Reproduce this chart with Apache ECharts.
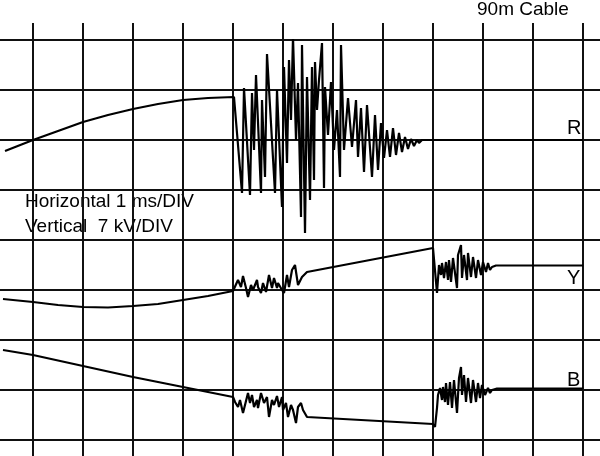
<!DOCTYPE html>
<html>
<head>
<meta charset="utf-8">
<script src="https://cdn.jsdelivr.net/npm/echarts@6/dist/echarts.min.js"></script>
<style>html,body{margin:0;padding:0;background:#fff}#c{width:600px;height:456px}</style>
</head>
<body>
<div id="c"></div>
<script>
// time in ms (1 ms/DIV), voltage in divisions (7 kV/DIV) measured from the bottom grid line
const traceR = [
  [-0.56,5.78],[0,6.00],[0.5,6.18],[1.0,6.36],[1.5,6.50],[2.0,6.62],[2.5,6.72],[3.0,6.80],[3.5,6.84],[4.02,6.86],
  [4.18,4.94],[4.22,7.04],[4.34,4.90],[4.38,6.94],[4.42,5.80],[4.46,7.30],[4.56,4.94],[4.58,6.80],[4.64,5.26],[4.68,7.72],
  [4.84,4.94],[4.88,7.00],[4.98,4.66],[5.02,7.46],[5.08,5.54],[5.12,7.60],[5.16,6.40],[5.20,8.06],[5.26,6.00],[5.30,7.14],
  [5.36,4.46],[5.38,7.90],[5.44,4.14],[5.48,7.26],[5.54,4.80],[5.58,7.46],[5.62,5.20],[5.64,7.56],[5.68,6.60],[5.72,7.20],
  [5.78,7.94],[5.82,5.04],[5.84,7.06],[5.90,6.10],[5.96,7.16],[6.02,5.80],[6.08,6.60],[6.14,5.26],[6.16,7.90],[6.22,5.80],
  [6.30,6.84],[6.38,5.86],[6.46,6.80],[6.50,5.66],[6.56,6.64],[6.62,5.36],[6.68,6.70],[6.78,5.26],[6.84,6.50],[6.90,5.40],
  [6.96,6.34],[7.02,5.64],[7.08,6.20],[7.14,5.66],[7.20,6.24],[7.26,5.70],[7.32,6.14],[7.38,5.76],[7.44,6.06],[7.50,5.82],
  [7.56,6.02],[7.62,5.88],[7.68,6.00],[7.72,5.94],[7.78,6.00],[11.0,6.00]
];
const traceY = [
  [-0.60,2.82],[0,2.76],[0.5,2.70],[1.0,2.66],[1.5,2.65],[2.0,2.68],[2.5,2.72],[3.0,2.80],[3.5,2.88],[4.0,2.98],
  [4.10,3.20],[4.16,3.06],[4.20,3.28],[4.26,3.04],[4.30,2.86],[4.36,3.10],[4.40,3.00],[4.48,3.20],[4.50,3.06],[4.56,2.94],
  [4.60,3.14],[4.66,2.96],[4.72,3.30],[4.78,3.04],[4.82,3.24],[4.88,3.04],[4.90,3.14],[4.98,3.00],[5.02,2.94],[5.08,3.30],
  [5.12,3.06],[5.18,3.40],[5.24,3.50],[5.30,3.10],[5.34,3.06],[5.38,3.26],[5.48,3.36],[8.00,3.84],
  [8.04,3.80],[8.08,2.94],[8.12,3.50],[8.16,3.30],[8.18,3.54],[8.22,3.24],[8.26,3.56],[8.30,3.20],[8.32,3.60],[8.36,3.16],
  [8.40,3.64],[8.48,3.04],[8.50,3.70],[8.56,3.90],[8.58,3.24],[8.62,3.70],[8.68,3.20],[8.70,3.74],[8.76,3.26],[8.80,3.66],
  [8.86,3.24],[8.90,3.60],[8.96,3.30],[9.00,3.56],[9.06,3.36],[9.10,3.54],[9.14,3.40],[9.18,3.46],[9.20,3.44],[9.26,3.49],
  [11.0,3.49]
];
const traceB = [
  [-0.60,1.80],[0,1.70],[1.0,1.48],[2.0,1.26],[3.0,1.06],[4.0,0.86],
  [4.04,0.76],[4.10,0.66],[4.14,0.80],[4.20,0.54],[4.30,0.94],[4.34,0.74],[4.38,0.90],[4.42,0.66],[4.48,0.80],[4.50,0.64],
  [4.56,0.94],[4.62,0.74],[4.68,0.86],[4.72,0.46],[4.78,0.80],[4.82,0.70],[4.88,0.88],[4.92,0.66],[4.98,0.86],[5.00,0.60],
  [5.06,0.74],[5.10,0.46],[5.16,0.70],[5.20,0.60],[5.26,0.34],[5.30,0.66],[5.36,0.74],[5.40,0.60],[5.48,0.46],[8.00,0.32],
  [8.04,0.26],[8.08,0.64],[8.10,0.90],[8.14,1.04],[8.18,0.80],[8.20,1.06],[8.24,0.76],[8.26,1.14],[8.30,0.70],[8.34,1.16],
  [8.38,0.64],[8.42,1.20],[8.48,0.54],[8.52,1.24],[8.56,1.46],[8.58,0.90],[8.62,1.30],[8.66,0.76],[8.70,1.24],[8.76,0.74],
  [8.80,1.20],[8.86,0.76],[8.90,1.14],[8.94,0.84],[8.98,1.10],[9.04,0.90],[9.10,1.04],[9.14,0.94],[9.18,1.00],[9.22,0.96],
  [9.28,1.03],[11.0,1.03]
];
const traceNames = ['R','Y','B'];
const titleText = '90m Cable';
const noteLines = ['Horizontal 1 ms/DIV','Vertical  7 kV/DIV'];

const FONT = '"Liberation Sans", Arial, sans-serif';
const chart = echarts.init(document.getElementById('c'), null, {renderer:'canvas'});
const lineStyle = {color:'#000', width:2.2};
const hidden = {show:false};
chart.setOption({
  animation:false,
  backgroundColor:'#fff',
  grid:[
    {left:33, right:17, top:23, bottom:0},
    {left:0, right:0, top:40, bottom:16}
  ],
  xAxis:[
    {gridIndex:0, type:'value', min:0, max:11, interval:1, axisLine:hidden, axisTick:hidden, axisLabel:hidden,
     splitLine:{show:true, lineStyle:{color:'#111', width:2}}},
    {gridIndex:1, type:'value', min:-0.66, max:11.34, axisLine:hidden, axisTick:hidden, axisLabel:hidden, splitLine:hidden}
  ],
  yAxis:[
    {gridIndex:0, type:'value', min:0, max:1, axisLine:hidden, axisTick:hidden, axisLabel:hidden, splitLine:hidden},
    {gridIndex:1, type:'value', min:0, max:8, interval:1, axisLine:hidden, axisTick:hidden, axisLabel:hidden,
     splitLine:{show:true, lineStyle:{color:'#111', width:2}}}
  ],
  series:[traceR, traceY, traceB].map((d,i)=>({
    name:traceNames[i], type:'line', xAxisIndex:1, yAxisIndex:1, data:d,
    showSymbol:false, symbol:'none', lineStyle:lineStyle, silent:true
  })),
  graphic:[
    {type:'text', left:477, top:0, style:{text:titleText, font:'19px '+FONT, fill:'#000'}},
    {type:'text', left:25, top:192, style:{text:noteLines[0], font:'19px '+FONT, fill:'#000'}},
    {type:'text', left:25, top:217, style:{text:noteLines[1], font:'19px '+FONT, fill:'#000'}},
    {type:'text', left:567, top:118, style:{text:traceNames[0], font:'20px '+FONT, fill:'#000'}},
    {type:'text', left:567, top:268, style:{text:traceNames[1], font:'20px '+FONT, fill:'#000'}},
    {type:'text', left:567, top:370, style:{text:traceNames[2], font:'20px '+FONT, fill:'#000'}}
  ]
});
</script>
</body>
</html>
